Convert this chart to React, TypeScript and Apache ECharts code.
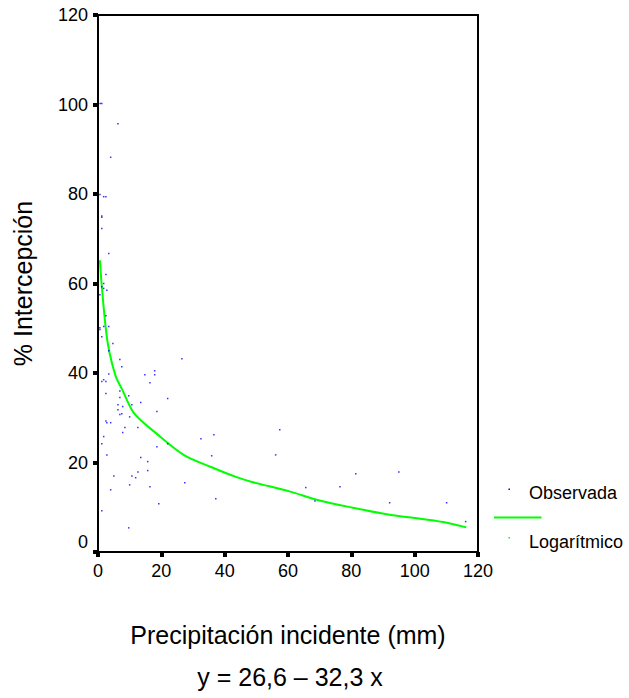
import React, { useEffect, useRef } from "react";
import * as echarts from "echarts";

// Observed interception (%) against incident precipitation (mm)
const obsX = [
  0.7, 1.2, 6.3, 4.0, 0.6, 1.8, 2.5, 1.2, 1.2, 1.2, 3.4, 2.5, 1.8, 1.2, 1.8, 2.8, 0.6, 2.5, 0.6, 0.6,
  1.8, 3.4, 1.2, 4.7, 3.4, 6.9, 26.5, 7.5, 3.4, 17.9, 14.8, 17.9, 16.4, 1.8, 2.5, 1.2, 2.5, 6.9, 6.9, 9.7,
  6.3, 7.8, 6.3, 6.9, 7.5, 10.7, 13.5, 22.0, 18.6, 10.0, 2.5, 2.8, 4.0, 8.5, 12.6, 7.8, 1.8, 1.2, 32.5, 36.6,
  18.6, 22.0, 35.9, 2.8, 13.5, 15.7, 15.7, 12.6, 5.0, 10.7, 11.9, 27.4, 10.0, 16.4, 4.0, 37.2, 19.2, 1.2, 9.7,
  57.4, 56.1, 81.4, 65.6, 76.4, 68.5, 95.0, 92.1, 110.1, 116.1,
];
const obsY = [
  100.2, 100.2, 95.7, 88.2, 79.9, 79.4, 79.4, 75.1, 74.8, 72.3, 66.7, 62.0, 60.0, 59.3, 58.9, 58.5, 57.5, 52.8, 50.1, 49.7,
  50.4, 50.4, 48.1, 46.6, 45.0, 43.0, 43.2, 41.4, 39.8, 40.5, 39.6, 39.6, 37.8, 38.5, 38.1, 38.1, 35.4, 36.0, 34.5, 34.9,
  32.9, 32.5, 31.8, 30.7, 30.9, 32.9, 33.4, 34.3, 31.4, 30.2, 29.3, 28.9, 28.9, 27.8, 27.8, 26.7, 25.8, 24.2, 25.3, 26.2,
  23.5, 24.2, 21.5, 21.7, 21.1, 20.2, 18.2, 17.9, 17.0, 17.0, 16.6, 15.5, 15.0, 14.6, 13.9, 11.9, 10.8, 9.2, 5.4,
  27.3, 21.7, 17.5, 14.4, 14.6, 11.4, 17.9, 11.0, 11.0, 6.8,
];

// Logarithmic fit curve
const fitX = [0.6, 1.0, 1.5, 2.3, 3.1, 4.2, 5.7, 7.5, 11.5, 18.6, 27.3, 35.7, 43.1, 48.9, 60.2, 70.0, 80.5, 93.1, 100.0, 108.9, 116.3];
const fitY = [65.2, 61.1, 57.0, 51.0, 46.6, 42.8, 39.1, 36.5, 30.9, 26.4, 21.6, 19.0, 16.9, 15.6, 13.6, 11.5, 9.9, 8.2, 7.6, 6.7, 5.5];

const xTitle = "Precipitación incidente (mm)";
const yTitle = "% Intercepción";
const equation = "y = 26,6 – 32,3 x";
const legendNames = ["Observada", "Logarítmico"];

const FONT = "'Liberation Sans', Arial, sans-serif";
const BLUE = "#0000ff";
const GREEN = "#00ff00";

export default function App() {
  const ref = useRef<HTMLDivElement>(null);

  useEffect(() => {
    if (!ref.current) return;
    const chart = echarts.init(ref.current, undefined, { renderer: "svg" });

    const obs = obsX.map((x, i) => [x, obsY[i]]);
    const fit = fitX.map((x, i) => [x, fitY[i]]);

    const tickStyle = { show: true, length: 5, lineStyle: { color: "#000", width: 4 } };

    chart.setOption({
      animation: false,
      backgroundColor: "#fff",
      grid: {
        left: 98,
        top: 15,
        width: 380,
        height: 537,
        show: true,
        borderColor: "#000",
        borderWidth: 2,
        backgroundColor: "transparent",
      },
      xAxis: {
        type: "value",
        min: 0,
        max: 120,
        interval: 20,
        name: xTitle,
        nameLocation: "middle",
        nameGap: 70,
        nameTextStyle: { fontFamily: FONT, fontSize: 25, color: "#000" },
        axisLine: { show: true, lineStyle: { color: "#000", width: 2 } },
        axisTick: tickStyle,
        splitLine: { show: false },
        axisLabel: { fontFamily: FONT, fontSize: 18, color: "#000", margin: 10 },
      },
      yAxis: {
        type: "value",
        min: 0,
        max: 120,
        interval: 20,
        name: yTitle,
        nameLocation: "middle",
        nameRotate: 90,
        nameGap: 63,
        nameTextStyle: { fontFamily: FONT, fontSize: 25, color: "#000" },
        axisLine: { show: true, lineStyle: { color: "#000", width: 2 } },
        axisTick: tickStyle,
        splitLine: { show: false },
        axisLabel: {
          fontFamily: FONT,
          fontSize: 18,
          color: "#000",
          margin: 10,
          formatter: (v: number) => (v === 0 ? "{z|0}" : String(v)),
          rich: { z: { fontFamily: FONT, fontSize: 18, color: "#000", padding: [0, 0, 20, 0] } },
        },
      },
      series: [
        {
          name: legendNames[0],
          type: "scatter",
          data: obs,
          symbol: "rect",
          symbolSize: 1.5,
          itemStyle: { color: BLUE },
          z: 3,
        },
        {
          name: legendNames[1],
          type: "line",
          data: fit,
          smooth: 0.3,
          showSymbol: false,
          lineStyle: { color: GREEN, width: 2 },
          z: 2,
        },
      ],
      graphic: [
        { type: "rect", shape: { x: 508.5, y: 488.5, width: 1.5, height: 1.5 }, style: { fill: BLUE } },
        {
          type: "text",
          x: 529,
          y: 493,
          style: { text: legendNames[0], fontFamily: FONT, fontSize: 18, fill: "#000", verticalAlign: "middle" },
        },
        {
          type: "line",
          shape: { x1: 494, y1: 517.5, x2: 541.5, y2: 517.5 },
          style: { stroke: GREEN, lineWidth: 2 },
        },
        { type: "rect", shape: { x: 508.5, y: 537, width: 1.5, height: 1.5 }, style: { fill: GREEN } },
        {
          type: "text",
          x: 529,
          y: 541.5,
          style: { text: legendNames[1], fontFamily: FONT, fontSize: 18, fill: "#000", verticalAlign: "middle" },
        },
        {
          type: "text",
          x: 290,
          y: 677,
          style: {
            text: equation,
            fontFamily: FONT,
            fontSize: 25,
            fill: "#000",
            align: "center",
            verticalAlign: "middle",
          },
        },
      ],
    });

    return () => chart.dispose();
  }, []);

  return (
    <div
      ref={ref}
      style={{ position: "absolute", left: 0, top: 0, width: 629, height: 698 }}
    />
  );
}
